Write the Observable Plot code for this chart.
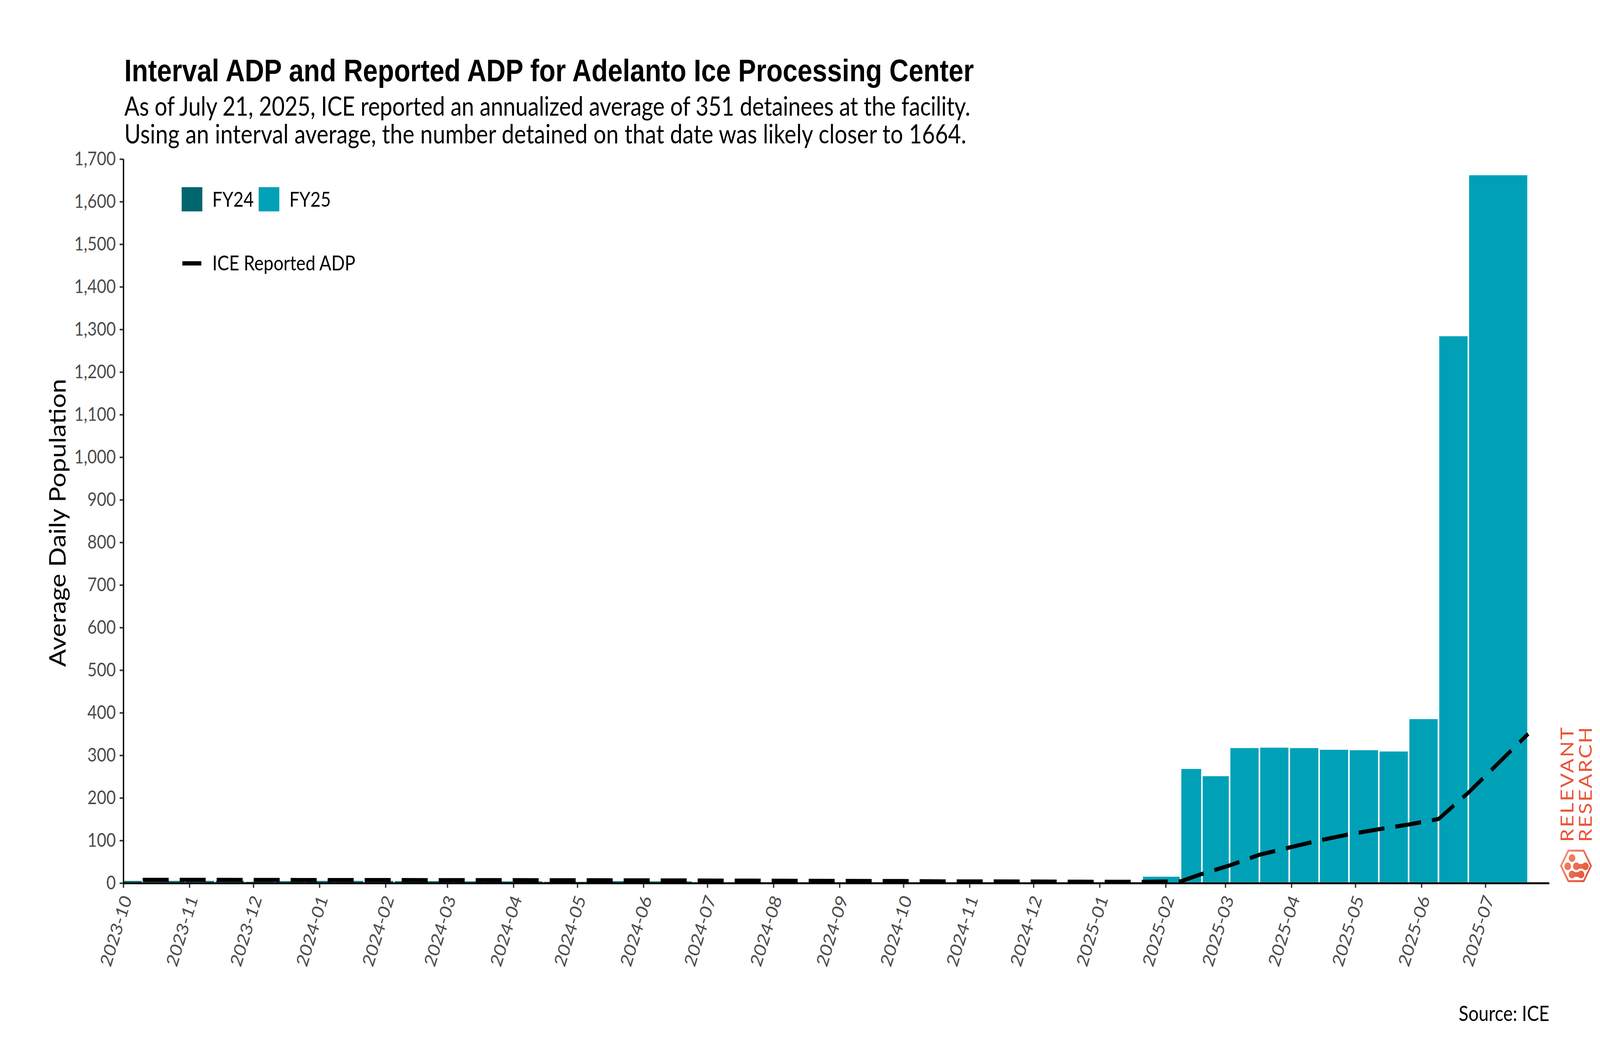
<!DOCTYPE html>
<html>
<head>
<meta charset="utf-8">
<script src="https://cdn.jsdelivr.net/npm/d3@7"></script>
<script src="https://cdn.jsdelivr.net/npm/@observablehq/plot@0.6"></script>
<style>
  html, body { margin: 0; padding: 0; background: #fff; overflow: hidden; }
  #wrap { position: relative; width: 4800px; height: 2700px; overflow: hidden; background: #fff; transform-origin: 0 0; }
  #chart { position: absolute; left: 0; top: 380px; }
  #chart svg { max-width: none !important; }
  #overlay { position: absolute; left: 0; top: 0; pointer-events: none; }
</style>
</head>
<body>
<div id="wrap">
  <div id="chart"></div>
  <svg id="overlay" width="4800" height="2700" xmlns="http://www.w3.org/2000/svg"></svg>
</div>
<script>
// ---------------- DATA ----------------
const fyLabels = ["FY24", "FY25"];
const fyColors = ["#00656F", "#00A1B7"];
const fyStarts = ["2023-10-01", "2024-10-01"];

// FY24 reporting dates, interval ADP, ICE reported (annualized) ADP
const fy24Dates = ["2023-10-10","2023-10-30","2023-11-13","2023-11-27","2023-12-11","2023-12-25",
  "2024-01-08","2024-01-22","2024-02-05","2024-02-19","2024-03-04","2024-03-18","2024-04-01",
  "2024-04-15","2024-04-29","2024-05-13","2024-05-27","2024-06-10","2024-06-24","2024-07-08",
  "2024-07-22","2024-08-05","2024-08-19","2024-09-02","2024-09-16","2024-09-30"];
const fy24Interval = [7, 7, 7, 7, 5, 6.5, 7, 7, 7, 6.5, 6.5, 6, 6, 6, 5, 5, 6.5, 6, 6, 3, 3, 2, 2, 2, 2, 2];
const fy24Reported = [8, 8, 8, 7.8, 7.8, 7.6, 7.6, 7.5, 7.5, 7.4, 7.4, 7.3, 7.3, 7.2, 7.1, 7.0, 6.9, 6.7, 6.5, 6.3, 6.1, 5.9, 5.7, 5.5, 5.3, 5.2];

// FY25 reporting dates, interval ADP, ICE reported (annualized) ADP
const fy25Dates = ["2024-10-15","2024-10-29","2024-11-12","2024-11-26","2024-12-10","2024-12-24",
  "2025-01-07","2025-01-21","2025-02-08","2025-02-18","2025-03-03","2025-03-17","2025-03-31",
  "2025-04-14","2025-04-28","2025-05-12","2025-05-26","2025-06-09","2025-06-23","2025-07-21"];
const fy25Interval = [4, 4, 4, 4, 4, 3, 3, 3, 17, 270, 253, 319, 320, 319, 315, 314, 311, 387, 1286, 1664];
const fy25Reported = [4.5, 4.4, 4.3, 4.1, 3.9, 3.6, 3.4, 3.3, 4.5, 22, 42, 67, 84, 100.5, 115, 127, 138, 151, 213, 351];

const xTickLabels = ["2023-10","2023-11","2023-12","2024-01","2024-02","2024-03","2024-04","2024-05",
  "2024-06","2024-07","2024-08","2024-09","2024-10","2024-11","2024-12","2025-01","2025-02","2025-03",
  "2025-04","2025-05","2025-06","2025-07"];
const yTicks = [0,100,200,300,400,500,600,700,800,900,1000,1100,1200,1300,1400,1500,1600,1700];
const xDomain = ["2023-10-01", "2025-07-31"];

// ---------------- BUILD ----------------
const parse = d3.utcParse("%Y-%m-%d");
const parseMonth = d3.utcParse("%Y-%m");
const xTicks = xTickLabels.map(parseMonth);

const bars = [];
[[fy24Dates, fy24Interval], [fy25Dates, fy25Interval]].forEach(([dates, vals], k) => {
  dates.forEach((d, i) => bars.push({
    fy: fyLabels[k],
    start: parse(i ? dates[i - 1] : fyStarts[k]),
    end: parse(d),
    value: vals[i]
  }));
});
const linePts = [
  ...fy24Dates.map((d, i) => ({date: parse(d), value: fy24Reported[i]})),
  ...fy25Dates.map((d, i) => ({date: parse(d), value: fy25Reported[i]}))
];

const chart = Plot.plot({
  width: 4800,
  height: 2190,
  marginTop: 27,
  marginBottom: 310,
  marginLeft: 370,
  marginRight: 152,
  style: {fontFamily: "Lato, 'Open Sans', sans-serif", fontSize: "49px", background: "white", color: "black", overflow: "visible"},
  x: {type: "utc", domain: xDomain.map(parse)},
  y: {domain: [0, 1700]},
  color: {domain: fyLabels, range: fyColors},
  marks: [
    Plot.rect(bars, {x1: "start", x2: "end", y1: () => 0, y2: "value", fill: "fy", stroke: "white", strokeWidth: 4.5}),
    Plot.line(linePts, {x: "date", y: "value", stroke: "black", strokeWidth: 10.5,
      strokeDasharray: "78,33", strokeLinecap: "butt", strokeLinejoin: "round"}),
    Plot.axisY({ticks: yTicks, tickFormat: d3.format(","), tickSize: 11, tickPadding: 12,
      stroke: "#333", strokeWidth: 4, fill: "#4d4d4d", label: null}),
    Plot.axisX({ticks: xTicks, tickSize: 12, tickFormat: () => "", stroke: "#333", strokeWidth: 4, label: null}),
    Plot.text(xTicks, {x: d => d, frameAnchor: "bottom", text: (d, i) => xTickLabels[i],
      rotate: -70, textAnchor: "end", lineAnchor: "middle", dx: 11, dy: 34, fill: "#4d4d4d"}),
    Plot.ruleY([0], {stroke: "black", strokeWidth: 5}),
    Plot.ruleX([parse(xDomain[0])], {stroke: "black", strokeWidth: 4})
  ]
});
document.getElementById("chart").appendChild(chart);

// ---------------- OVERLAY: titles, legend, labels, logo ----------------
const ov = d3.select("#overlay");
const bodyFont = "Lato, 'Open Sans', sans-serif";

ov.append("text").attr("x", 373).attr("y", 208)
  .attr("font-family", "'Liberation Sans', Arial, sans-serif").attr("font-weight", "bold")
  .attr("font-size", 80).attr("fill", "black")
  .text("Interval ADP and Reported ADP for Adelanto Ice Processing Center");

ov.append("text").attr("x", 373).attr("y", 296)
  .attr("font-family", bodyFont).attr("font-size", 67).attr("fill", "black")
  .attr("textLength", 2538).attr("lengthAdjust", "spacing")
  .text("As of July 21, 2025, ICE reported an annualized average of 351 detainees at the facility.");
ov.append("text").attr("x", 373).attr("y", 367)
  .attr("font-family", bodyFont).attr("font-size", 67).attr("fill", "black")
  .attr("textLength", 2526).attr("lengthAdjust", "spacing")
  .text("Using an interval average, the number detained on that date was likely closer to 1664.");

// legend
const lg = ov.append("g").attr("font-family", bodyFont).attr("font-size", 53).attr("fill", "black");
const swX = [545, 776], txX = [637, 868];
fyLabels.forEach((lab, i) => {
  lg.append("rect").attr("x", swX[i]).attr("y", 479).attr("width", 62).attr("height", 62).attr("fill", fyColors[i]);
  lg.append("text").attr("x", txX[i]).attr("y", 529).text(lab);
});
lg.append("line").attr("x1", 547).attr("x2", 604).attr("y1", 674).attr("y2", 674)
  .attr("stroke", "black").attr("stroke-width", 11);
lg.append("text").attr("x", 637).attr("y", 692).text("ICE Reported ADP");

// y-axis title
ov.append("text").attr("transform", "translate(197,1338) rotate(-90)")
  .attr("text-anchor", "middle").attr("font-family", bodyFont)
  .attr("font-size", 67).attr("fill", "black").text("Average Daily Population");

// source
ov.append("text").attr("x", 4648).attr("y", 2613).attr("text-anchor", "end")
  .attr("font-family", bodyFont).attr("font-size", 54).attr("fill", "black")
  .text("Source: ICE");

// logo
const logoColor = "#E8563A";
const defs = ov.append("defs");
const grad = defs.append("linearGradient").attr("id", "lgrad").attr("gradientUnits", "userSpaceOnUse")
  .attr("x1", 4683).attr("y1", 2177).attr("x2", 4773).attr("y2", 2255);
grad.append("stop").attr("offset", 0).attr("stop-color", "#F1937A");
grad.append("stop").attr("offset", 1).attr("stop-color", "#E4472A");
const logo = ov.append("g");
["RELEVANT", "RESEARCH"].forEach((w, i) => {
  logo.append("text").attr("transform", `translate(${4720 + i * 55},2155) rotate(-90)`)
    .attr("font-family", bodyFont).attr("font-weight", 400)
    .attr("font-size", 54).attr("fill", logoColor)
    .attr("textLength", 294).attr("lengthAdjust", "spacing").text(w);
});
logo.append("polygon").attr("points", "4683,2216 4705,2177 4751,2177 4773,2216 4751,2255 4705,2255")
  .attr("fill", "none").attr("stroke", "url(#lgrad)").attr("stroke-width", 5);
const dots = logo.append("g").attr("fill", "url(#lgrad)");
dots.append("circle").attr("cx", 4716).attr("cy", 2196).attr("r", 10);
dots.append("circle").attr("cx", 4703).attr("cy", 2217).attr("r", 10);
dots.append("circle").attr("cx", 4729).attr("cy", 2217).attr("r", 10);
dots.append("circle").attr("cx", 4756).attr("cy", 2217).attr("r", 10);
dots.append("rect").attr("x", 4729).attr("y", 2211).attr("width", 27).attr("height", 12);
dots.append("circle").attr("cx", 4716).attr("cy", 2238).attr("r", 10);
dots.append("circle").attr("cx", 4743).attr("cy", 2238).attr("r", 10);
dots.append("rect").attr("x", 4716).attr("y", 2232).attr("width", 27).attr("height", 12);

// fit the 4800x2700 design into the actual window
function fit() {
  const w = window.innerWidth || 4800, h = window.innerHeight || 2700;
  const sx = w / 4800, sy = h / 2700;
  document.getElementById("wrap").style.transform =
    (Math.abs(sx - 1) < 1e-3 && Math.abs(sy - 1) < 1e-3) ? "" : `scale(${sx}, ${sy})`;
}
fit();
window.addEventListener("resize", fit);
</script>
</body>
</html>
